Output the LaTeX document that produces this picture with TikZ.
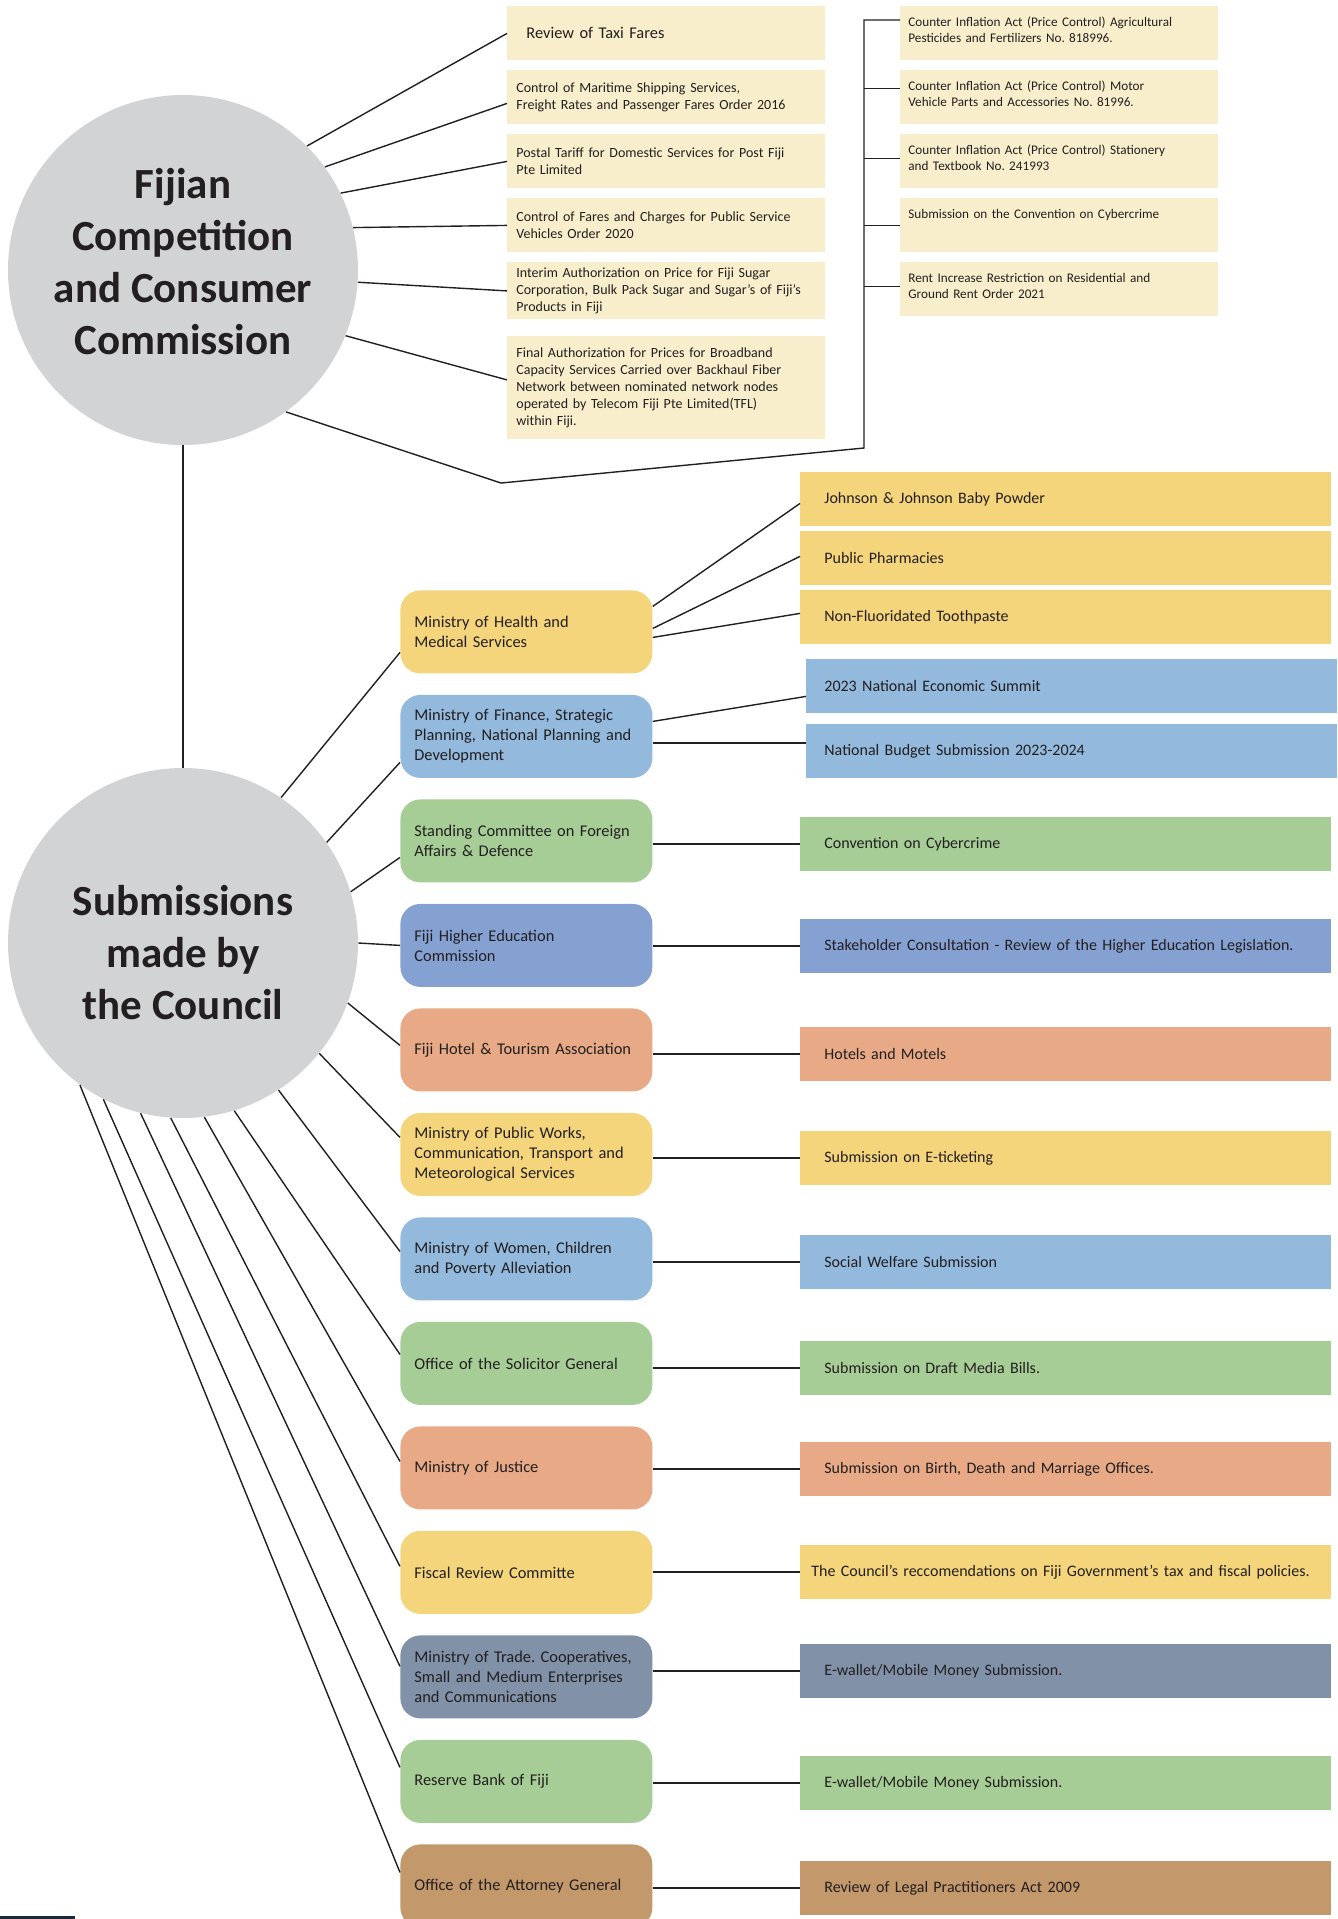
\documentclass[tikz,border=0pt]{standalone}
\usepackage{fontspec}
\setmainfont{Carlito}
\usetikzlibrary{calc}
\frenchspacing

\definecolor{inkdark}{HTML}{231F20}
\definecolor{discgray}{HTML}{D1D3D4}
\definecolor{cream}{HTML}{F8EECB}
\definecolor{sunyellow}{HTML}{F4D57C}
\definecolor{skyblue}{HTML}{93B9DD}
\definecolor{leafgreen}{HTML}{A6CD96}
\definecolor{periwinkle}{HTML}{85A1D2}
\definecolor{salmon}{HTML}{E8AA86}
\definecolor{slate}{HTML}{8091A8}
\definecolor{tanbrown}{HTML}{C3986B}
\definecolor{navy}{HTML}{1B2A3A}

\begin{document}
\begin{tikzpicture}[x=0.5pt,y=-0.5pt,
  disc/.style={circle,fill=discgray,minimum size=175pt,inner sep=0pt,align=center,text=inkdark,
    font=\bfseries\fontsize{21.5}{26}\selectfont,text depth=0pt},
  notebox/.style={fill=cream,anchor=north west,minimum height=27pt,inner ysep=0pt,inner xsep=4.5pt,
    text width=150pt,align=left,text=inkdark,font=\fontsize{7}{8.5}\selectfont},
  actbox/.style={fill=cream,anchor=north west,inner ysep=0pt,inner xsep=4pt,text width=151pt,
    align=left,text=inkdark,font=\fontsize{6.6}{8}\selectfont,text height=10pt,text depth=17pt},
  orgbox/.style={fill=#1,rounded corners=10pt,anchor=north west,minimum height=41.5pt,inner ysep=0pt,
    inner xsep=7pt,text width=112pt,align=left,text=inkdark,font=\fontsize{8.2}{10}\selectfont},
  topicbox/.style={fill=#1,anchor=north west,minimum height=27pt,inner ysep=0pt,inner xsep=12pt,
    text width=241.5pt,align=left,text=inkdark,font=\fontsize{8}{10}\selectfont},
  link/.style={draw=inkdark,line width=0.7pt},
  bar/.style={draw=inkdark,line width=1pt}]
\useasboundingbox (0,0) rectangle (1338,1919);

\node[disc,text height=84pt] (fccc) at (183,270) {Fijian\\Competition\\and Consumer\\Commission};
\node[disc,text height=76pt] (council) at (183,943) {Submissions\\made by\\the Council};

\node[notebox,font=\fontsize{8.2}{10}\selectfont] (f1) at (507,6) {\hspace*{5pt}Review of Taxi Fares};
\node[notebox] (f2) at (507,70) {Control of Maritime Shipping Services,\\Freight Rates and Passenger Fares Order 2016};
\node[notebox] (f3) at (507,134) {Postal Tariff for Domestic Services for Post Fiji\\Pte Limited};
\node[notebox] (f4) at (507,198) {Control of Fares and Charges for Public Service\\Vehicles Order 2020};
\node[notebox,minimum height=28.5pt] (f5) at (507,262) {Interim Authorization on Price for Fiji Sugar\\Corporation, Bulk Pack Sugar and Sugar’s of Fiji’s\\Products in Fiji};
\node[notebox,minimum height=51.5pt] (f6) at (507,336) {Final Authorization for Prices for Broadband\\Capacity Services Carried over Backhaul Fiber\\Network between nominated network nodes\\operated by Telecom Fiji Pte Limited(TFL)\\within Fiji.};

\node[actbox] (c1) at (900,6) {Counter Inflation Act (Price Control) Agricultural\\Pesticides and Fertilizers No. 818996.};
\node[actbox] (c2) at (900,70) {Counter Inflation Act (Price Control) Motor\\Vehicle Parts and Accessories No. 81996.};
\node[actbox] (c3) at (900,134) {Counter Inflation Act (Price Control) Stationery\\and Textbook No. 241993};
\node[actbox] (c4) at (900,198) {Submission on the Convention on Cybercrime};
\node[actbox] (c5) at (900,262) {Rent Increase Restriction on Residential and\\Ground Rent Order 2021};

\draw[link] (fccc.45) -- (f1.west);
\draw[link] (fccc.36) -- ([yshift=-3pt]f2.west);
\draw[link] (fccc.26) -- (f3.west);
\draw[link] (fccc.14) -- (f4.west);
\draw[link] (fccc.-4) -- (f5.west);
\draw[link] (fccc.-22) -- ([yshift=4pt]f6.west);

\coordinate (dip) at (501,483);
\coordinate (rail) at (864,448);
\coordinate (railtop) at (864,20);
\draw[link] (fccc.-54) -- (dip) -- (rail) -- (railtop) -- (railtop -| c1.west);
\foreach \k/\dy in {2/4.5,3/1.5,4/0,5/1.5}
  \draw[link] ([yshift=\dy pt]c\k.west -| rail) -- ([yshift=\dy pt]c\k.west);

\draw[link] (fccc.south) -- (council.north);

\foreach \shade/\txt [count=\i] in {
  sunyellow/{Ministry of Health and\\Medical Services},
  skyblue/{Ministry of Finance, Strategic\\Planning, National Planning and\\Development},
  leafgreen/{Standing Committee on Foreign\\Affairs \& Defence},
  periwinkle/{Fiji Higher Education\\Commission},
  salmon/{Fiji Hotel \& Tourism Association},
  sunyellow/{Ministry of Public Works,\\Communication, Transport  and\\Meteorological Services},
  skyblue/{Ministry of Women, Children\\and Poverty Alleviation},
  leafgreen/{Office of the Solicitor General},
  salmon/{Ministry of Justice},
  sunyellow/{Fiscal Review Committe},
  slate/{Ministry of Trade. Cooperatives,\\Small and Medium Enterprises\\and Communications},
  leafgreen/{Reserve Bank of Fiji},
  tanbrown/{Office of the Attorney General}}
  \node[orgbox=\shade] (m\i) at (400,{590+(\i-1)*104.5}) {\txt};

\node[topicbox=sunyellow] (r1) at (800,472) {Johnson \& Johnson Baby Powder};
\node[topicbox=sunyellow] (r2) at (800,531) {Public Pharmacies};
\node[topicbox=sunyellow] (r3) at (800,590) {Non-Fluoridated Toothpaste};
\node[topicbox=skyblue,inner xsep=9pt,text width=247.5pt] (r4) at (806,659) {2023 National Economic Summit};
\node[topicbox=skyblue,inner xsep=9pt,text width=247.5pt] (r5) at (806,724) {National Budget Submission 2023-2024};
\node[topicbox=leafgreen] (r6) at (800,817) {Convention on Cybercrime};
\node[topicbox=periwinkle] (r7) at (800,919) {Stakeholder Consultation - Review of the Higher Education Legislation.};
\node[topicbox=salmon] (r8) at (800,1027) {Hotels and Motels};
\node[topicbox=sunyellow] (r9) at (800,1131) {Submission on E-ticketing};
\node[topicbox=skyblue] (r10) at (800,1235) {Social Welfare Submission};
\node[topicbox=leafgreen] (r11) at (800,1341) {Submission on Draft Media Bills.};
\node[topicbox=salmon] (r12) at (800,1442) {Submission on Birth, Death and Marriage Offices.};
\node[topicbox=sunyellow,inner xsep=5.5pt,text width=254.5pt] (r13) at (800,1545) {The Council’s reccomendations on Fiji Government’s tax and fiscal policies.};
\node[topicbox=slate] (r14) at (800,1644) {E-wallet/Mobile Money Submission.};
\node[topicbox=leafgreen] (r15) at (800,1756) {E-wallet/Mobile Money Submission.};
\node[topicbox=tanbrown] (r16) at (800,1861) {Review of Legal Practitioners Act 2009};

\foreach \a/\dy [count=\i] in {56/-10.25,35/-13,17/-8.25,0/0,-20/2.25,-39/8.5,-57/3.75,-73/4.5,-83/3.25,-94/3,-104/5.25,-117/7,-126/6.75}
  \draw[link] (council.\a) -- ([yshift=\dy pt]m\i.west);

\draw[link] ([yshift=12.75pt]m1.east) -- ([yshift=-2pt]r1.west);
\draw[link] ([yshift=1.75pt]m1.east) -- ([yshift=1pt]r2.west);
\draw[link] ([yshift=-2.75pt]m1.east) -- ([yshift=2pt]r3.west);
\draw[link] ([yshift=7.5pt]m2.east) -- ([yshift=-5pt]r4.west);
\draw[bar] ([yshift=4pt]r5.west -| m2.east) -- ([yshift=4pt]r5.west);
\foreach \i/\j in {3/6,4/7,5/8,6/9,7/10,8/11,9/12,10/13,11/14,12/15,13/16}
  \draw[bar] (r\j.west -| m\i.east) -- (r\j.west);

\fill[navy] (0,1916) rectangle (75,1920);
\end{tikzpicture}
\end{document}
